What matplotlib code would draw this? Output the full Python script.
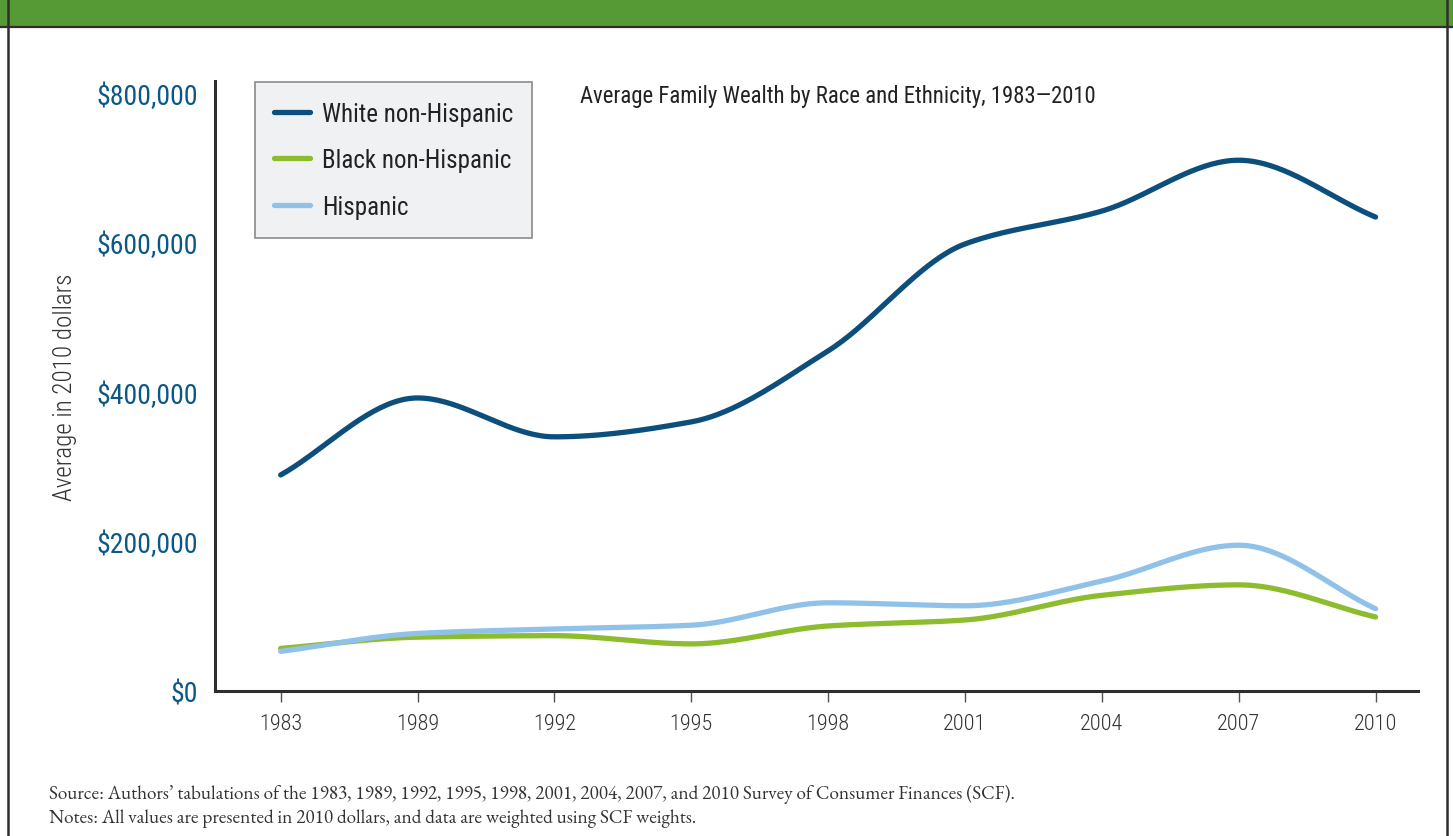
"""Average family wealth by race and ethnicity, 1983-2010 (SCF)."""

import matplotlib

matplotlib.use("Agg")
import matplotlib.pyplot as plt
import numpy as np
from matplotlib.lines import Line2D
from matplotlib.patches import Rectangle

YEARS = ["1983", "1989", "1992", "1995", "1998", "2001", "2004", "2007", "2010"]
WHITE = [289000, 392000, 340000, 360000, 455000, 598000, 642000, 710000, 634000]
BLACK = [57000, 72000, 74000, 63000, 87000, 95000, 128000, 142000, 99000]
HISPANIC = [53000, 77000, 83000, 88000, 118000, 114000, 147000, 195000, 110000]
SERIES_LABELS = ["White non-Hispanic", "Black non-Hispanic", "Hispanic"]
Y_TICKS = [0, 200000, 400000, 600000, 800000]

COLORS = ["#0c4e7c", "#8dbd2f", "#90c2e9"]
TICK_BLUE = "#0b5888"
HEADER_GREEN = "#569a35"
SPINE = "#2e2e2e"

COND = ["Roboto Condensed", "DejaVu Sans"]
SERIF = ["EB Garamond", "Liberation Serif", "DejaVu Serif"]


def monotone_curve(x, y, n=40):
    """Fritsch-Carlson monotone cubic through the points, for smooth drawing."""
    x = np.asarray(x, float)
    y = np.asarray(y, float)
    h = np.diff(x)
    d = np.diff(y) / h
    m = np.zeros_like(y)
    m[0], m[-1] = d[0], d[-1]
    for i in range(1, len(y) - 1):
        if d[i - 1] * d[i] <= 0:
            m[i] = 0.0
        else:
            w1 = 2 * h[i] + h[i - 1]
            w2 = h[i] + 2 * h[i - 1]
            m[i] = (w1 + w2) / (w1 / d[i - 1] + w2 / d[i])
    xs, ys = [], []
    for i in range(len(x) - 1):
        t = np.linspace(0, 1, n, endpoint=False)
        h00 = 2 * t**3 - 3 * t**2 + 1
        h10 = t**3 - 2 * t**2 + t
        h01 = -2 * t**3 + 3 * t**2
        h11 = t**3 - t**2
        xs.append(x[i] + t * h[i])
        ys.append(h00 * y[i] + h10 * h[i] * m[i] + h01 * y[i + 1] + h11 * h[i] * m[i + 1])
    xs.append([x[-1]])
    ys.append([y[-1]])
    return np.concatenate(xs), np.concatenate(ys)


def main() -> None:
    fig = plt.figure(figsize=(14.53, 8.37), dpi=100)
    fig.patch.set_facecolor("white")

    # header band and frame
    fig.patches.append(Rectangle((0, 1 - 28 / 837), 1, 28 / 837, transform=fig.transFigure,
                                 facecolor=HEADER_GREEN, edgecolor="none", zorder=0))
    fig.add_artist(Line2D([0, 1], [1 - 28 / 837] * 2, transform=fig.transFigure,
                          color=SPINE, lw=1.6))
    fig.add_artist(Line2D([8 / 1453] * 2, [0, 1], transform=fig.transFigure,
                          color=SPINE, lw=1.8))
    fig.add_artist(Line2D([1447 / 1453] * 2, [0, 1], transform=fig.transFigure,
                          color=SPINE, lw=1.8))

    ax = fig.add_axes([215 / 1453, 1 - 692 / 837, (1418 - 215) / 1453, (692 - 82) / 837])
    x = np.arange(len(YEARS))
    for values, color, label in zip([WHITE, BLACK, HISPANIC], COLORS, SERIES_LABELS):
        xs, ys = monotone_curve(x, values)
        ax.plot(xs, ys, color=color, lw=3.8, solid_capstyle="round", label=label)

    ax.set_xlim(-0.48, 8.31)
    ax.set_ylim(0, 816000)
    ax.set_xticks(x)
    ax.set_xticklabels(YEARS, family=COND, fontsize=16, fontweight="light", color="#333333")
    ax.set_yticks(Y_TICKS)
    ax.set_yticklabels([f"${v:,.0f}" for v in Y_TICKS], family=COND, fontsize=20,
                       fontweight="normal", color=TICK_BLUE)
    ax.tick_params(axis="y", length=0, pad=12)
    ax.tick_params(axis="x", length=8, width=1, color="#555555", direction="out", pad=8)
    for side in ("top", "right"):
        ax.spines[side].set_visible(False)
    for side in ("left", "bottom"):
        ax.spines[side].set_color(SPINE)
        ax.spines[side].set_linewidth(2.2)

    ax.set_ylabel("Average in 2010 dollars", family=COND, fontsize=18, fontweight="light",
                  color="#333333", labelpad=14)

    leg = ax.legend(loc="upper left", bbox_to_anchor=(0.033, 0.998), borderaxespad=0,
                    prop={"family": COND, "size": 18}, handlelength=1.45,
                    labelspacing=0.9, borderpad=0.78, handletextpad=0.45,
                    fancybox=False, framealpha=1)
    leg.get_frame().set_facecolor("#f0f1f2")
    leg.get_frame().set_edgecolor("#8a8a8a")
    leg.get_frame().set_linewidth(1.2)
    for text in leg.get_texts():
        text.set_color("#222222")

    fig.text(580 / 1453, 1 - 97 / 837, "Average Family Wealth by Race and Ethnicity, 1983\u20142010",
             family=COND, fontsize=16.4, color="#222222", ha="left", va="center")

    fig.text(49 / 1453, 1 - 795 / 837,
             "Source: Authors\u2019 tabulations of the 1983, 1989, 1992, 1995, 1998, 2001, 2004, "
             "2007, and 2010 Survey of Consumer Finances (SCF).",
             family=SERIF, fontsize=13.8, color="#333333", ha="left", va="center")
    fig.text(49 / 1453, 1 - 819 / 837,
             "Notes: All values are presented in 2010 dollars, and data are weighted using SCF weights.",
             family=SERIF, fontsize=13.8, color="#333333", ha="left", va="center")

    fig.savefig("out.png", dpi=100)
    plt.close(fig)


if __name__ == "__main__":
    main()
